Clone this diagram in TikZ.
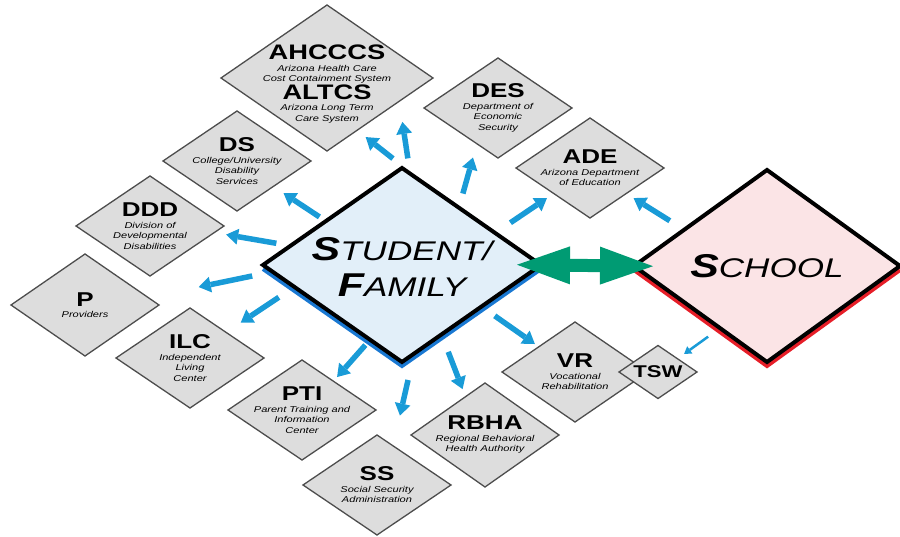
\documentclass[tikz,border=0pt]{standalone}
\usepackage{fontspec}
\setmainfont{Liberation Sans}[FakeStretch=1.3]
\usetikzlibrary{calc}
\usetikzlibrary{arrows.meta,backgrounds,shapes.geometric}
\definecolor{boxgray}{RGB}{221,221,221}
\definecolor{boxline}{RGB}{77,77,77}
\definecolor{sfblue}{RGB}{226,239,249}
\definecolor{sfshadow}{RGB}{25,120,210}
\definecolor{schpink}{RGB}{251,228,230}
\definecolor{schshadow}{RGB}{230,30,40}
\definecolor{arrblue}{RGB}{25,155,215}
\definecolor{arrgreen}{RGB}{0,155,115}
\newcommand{\acr}[1]{{\fontsize{20}{20}\selectfont\upshape\bfseries #1}}
\newcommand{\bigacr}[1]{{\fontsize{21}{21}\selectfont\upshape\bfseries #1}}
\newcommand{\initial}[1]{{\fontsize{33}{33}\selectfont\bfseries #1}}

\begin{document}
\begin{tikzpicture}[x=1pt,y=-1pt,
            box/.style={diamond,draw=boxline,fill=boxgray,line width=1.3pt,inner sep=0pt,outer sep=0pt,
              minimum width=148pt,minimum height=100pt},
            bigbox/.style={diamond,draw=black,line width=4pt,inner sep=0pt,outer sep=0pt,
              minimum width=278pt,minimum height=194pt},
            txt/.style={align=center,inner sep=0pt,font=\fontsize{8.5}{10.5}\selectfont\itshape},
            bigtxt/.style={align=center,inner sep=0pt,font=\fontsize{27}{36}\selectfont\itshape},
            flow/.style={arrblue,line width=5.5pt,-{Triangle[length=12pt,width=16pt,line width=0pt]}},
            thinflow/.style={arrblue,line width=2.5pt,-{Triangle[length=7pt,width=9pt,line width=0pt]}},
            link/.style={arrgreen,line width=13pt,
              {Triangle[length=53pt,width=38pt,line width=0pt]}-{Triangle[length=53pt,width=38pt,line width=0pt]}}]
          \useasboundingbox (0,0) rectangle (900,537);
          \node[box,minimum width=212pt,minimum height=146pt,
            label={[txt,yshift=-6pt]center:{\bigacr{AHCCCS}\\[1pt]Arizona Health Care\\Cost Containment System\\\bigacr{ALTCS}\\[1pt]Arizona Long Term\\Care System}}] (ahcccs) at (327,78) {};
          \node[box,label={[txt]center:{\acr{DES}\\[1pt]Department of\\Economic\\Security}}] (des) at (498,108) {};
          \node[box,label={[txt]center:{\acr{ADE}\\[1pt]Arizona Department\\of Education}}] (ade) at (590,168) {};
          \node[box,label={[txt]center:{\acr{DS}\\[1pt]College/University\\Disability\\Services}}] (ds) at (237,161) {};
          \node[box,label={[txt]center:{\acr{DDD}\\[1pt]Division of\\Developmental\\Disabilities}}] (ddd) at (150,226) {};
          \node[box,minimum height=102pt,label={[txt]center:{\acr{P}\\[1pt]Providers}}] (prov) at (85,305) {};
          \node[box,label={[txt]center:{\acr{ILC}\\[1pt]Independent\\Living\\Center}}] (ilc) at (190,358) {};
          \node[box,label={[txt]center:{\acr{PTI}\\[1pt]Parent Training and\\Information\\Center}}] (pti) at (302,410) {};
          \node[box,label={[txt]center:{\acr{SS}\\[1pt]Social Security\\Administration}}] (ss) at (377,485) {};
          \node[box,minimum height=104pt,label={[txt]center:{\acr{RBHA}\\[1pt]Regional Behavioral\\Health Authority}}] (rbha) at (485,435) {};
          \node[box,minimum width=146pt,label={[txt]center:{\acr{VR}\\[1pt]Vocational\\Rehabilitation}}] (vr) at (575,372) {};
          \node[box,minimum width=78pt,minimum height=53pt,
            label={[txt]center:{{\fontsize{17}{17}\selectfont\upshape\bfseries TSW}}}] (tsw) at (658,372) {};
          \node[bigbox,fill=sfblue,label={[bigtxt,yshift=-2pt]center:{\initial{S}TUDENT/\\\initial{F}AMILY}}] (sf) at (402,265) {};
          \node[bigbox,fill=schpink,minimum width=266pt,minimum height=192pt,
            label={[bigtxt]center:{\initial{S}CHOOL}}] (sch) at (767,266) {};
          \begin{scope}[on background layer]
            \draw[sfshadow,line width=4pt] ([yshift=-4pt]sf.west) -- ([yshift=-4pt]sf.south) -- ([yshift=-4pt]sf.east);
            \draw[schshadow,line width=4pt] ([yshift=-4pt]sch.west) -- ([yshift=-4pt]sch.south) -- ([yshift=-4pt]sch.east);
          \end{scope}
          \draw[link,shorten <=-24pt,shorten >=-19pt] (sf.east) -- (sch.west);
          \draw[flow] ($(sf)!.53!-17:(ahcccs)$) -- ($(sf)!.66!-6:(ahcccs)$);
          \draw[flow] ($(sf)!.53!-25:(ahcccs)$) -- ($(sf)!.71!-22:(ahcccs)$);
          \draw[flow] ($(sf)!.51!-9:(des)$) -- ($(sf)!.70!-2:(des)$);
          \draw[flow] ($(sf)!.55!-6:(ade)$) -- ($(sf)!.755!-2.5:(ade)$);
          \draw[flow] ($(sf)!.49!2:(ds)$) -- ($(sf)!.71!1:(ds)$);
          \draw[flow] ($(sf)!.50!-1:(ddd)$) -- ($(sf)!.70!-1:(ddd)$);
          \draw[flow] ($(sf)!.47!-3:(prov)$) -- ($(sf)!.64!-1:(prov)$);
          \draw[flow] ($(sf)!.55!-9:(ilc)$) -- ($(sf)!.74!-4:(ilc)$);
          \draw[flow] ($(sf)!.50!10:(pti)$) -- ($(sf)!.735!4.5:(pti)$);
          \draw[flow] ($(sf)!.52!9.5:(ss)$) -- ($(sf)!.68!5.7:(ss)$);
          \draw[flow] ($(sf)!.52!2:(rbha)$) -- ($(sf)!.73!0:(rbha)$);
          \draw[flow] ($(sf)!.52!3:(vr)$) -- ($(sf)!.76!1:(vr)$);
          \draw[flow] ($(sch)!.53!4:(ade)$) -- ($(sch)!.74!2:(ade)$);
          \draw[thinflow] ($(sch)!.605!6:(tsw)$) -- ($(sch)!.795!2.5:(tsw)$);
        \end{tikzpicture}
\end{document}
